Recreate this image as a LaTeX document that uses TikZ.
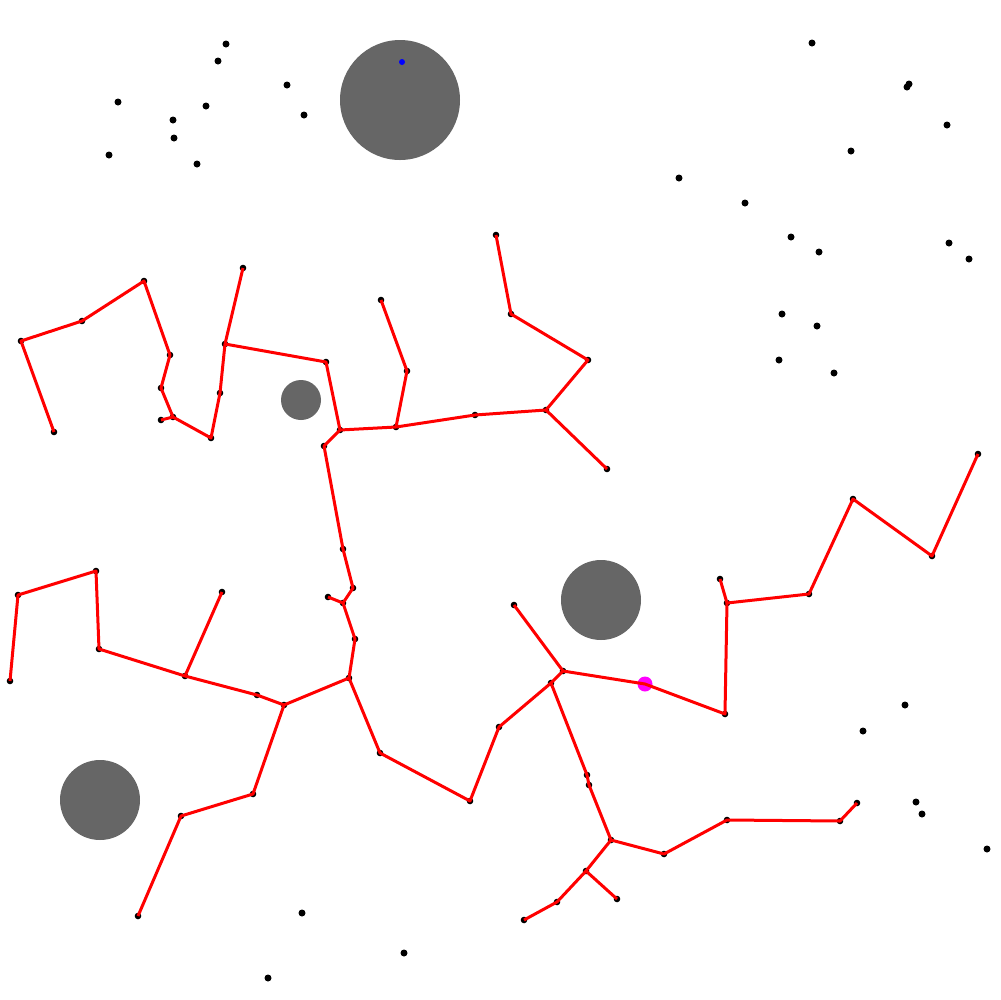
\documentclass[tikz,border=0pt]{standalone}
\usepackage{xcolor}
\usepackage{tikz}
\definecolor{obstgray}{RGB}{102, 102, 102}
\definecolor{treered}{RGB}{255, 0, 0}
\definecolor{goalpink}{RGB}{255, 0, 255}
\definecolor{startblue}{RGB}{0, 0, 255}

\begin{document}
\begin{tikzpicture}[
    x=0.1mm, y=-0.1mm,
    obstacle/.style={fill=obstgray},
    sample/.style={fill=black},
    marker/.style={fill=black},
    edge/.style={draw=treered, line width=0.3mm, line join=round}
]
\fill[white] (0,0) rectangle (1000,1000);
\useasboundingbox (0,0) rectangle (1000,1000);

% obstacles
\fill[obstacle] (400,100) circle (6mm);
\fill[obstacle] (301,400) circle (2mm);
\fill[obstacle] (601,600) circle (4mm);
\fill[obstacle] (100,800) circle (4mm);

% free samples
\foreach \x/\y in {226/44, 218/61, 287/85, 118/102, 206/106, 304/115, 173/120,
    174/138, 109/155, 197/164, 812/43, 909/84, 907/87, 947/125, 851/151,
    679/178, 745/203, 791/237, 819/252, 949/243, 969/259, 782/314, 817/326,
    779/360, 834/373, 905/705, 863/731, 916/802, 922/814, 987/849,
    302/913, 404/953, 268/978}
    \fill[sample] (\x,\y) circle (0.35mm);

% tree vertices
\coordinate (v1) at (54,432);
\coordinate (v2) at (21,341);
\coordinate (v3) at (82,321);
\coordinate (v4) at (144,281);
\coordinate (v5) at (170,355);
\coordinate (v6) at (161,388);
\coordinate (v7) at (173,417);
\coordinate (v8) at (161,420);
\coordinate (v9) at (211,438);
\coordinate (v10) at (220,393);
\coordinate (v11) at (225,344);
\coordinate (v12) at (243,268);
\coordinate (v13) at (326,362);
\coordinate (v14) at (340,430);
\coordinate (v15) at (324,446);
\coordinate (v16) at (396,427);
\coordinate (v17) at (407,371);
\coordinate (v18) at (381,300);
\coordinate (v19) at (475,415);
\coordinate (v20) at (546,410);
\coordinate (v21) at (588,360);
\coordinate (v22) at (511,314);
\coordinate (v23) at (496,235);
\coordinate (v24) at (607,469);
\coordinate (v25) at (343,549);
\coordinate (v26) at (353,588);
\coordinate (v27) at (343,603);
\coordinate (v28) at (328,597);
\coordinate (v29) at (355,639);
\coordinate (v30) at (349,678);
\coordinate (v31) at (284,705);
\coordinate (v32) at (257,695);
\coordinate (v33) at (185,676);
\coordinate (v34) at (222,592);
\coordinate (v35) at (99,649);
\coordinate (v36) at (96,571);
\coordinate (v37) at (18,595);
\coordinate (v38) at (10,681);
\coordinate (v39) at (253,794);
\coordinate (v40) at (181,816);
\coordinate (v41) at (138,916);
\coordinate (v42) at (380,753);
\coordinate (v43) at (470,801);
\coordinate (v44) at (499,727);
\coordinate (v45) at (551,683);
\coordinate (v46) at (563,671);
\coordinate (v47) at (514,605);
\coordinate (v48) at (725,714);
\coordinate (v49) at (727,603);
\coordinate (v50) at (720,579);
\coordinate (v51) at (809,594);
\coordinate (v52) at (853,499);
\coordinate (v53) at (932,556);
\coordinate (v54) at (978,454);
\coordinate (v55) at (587,775);
\coordinate (v56) at (589,785);
\coordinate (v57) at (611,840);
\coordinate (v58) at (664,854);
\coordinate (v59) at (727,820);
\coordinate (v60) at (840,821);
\coordinate (v61) at (857,803);
\coordinate (v62) at (586,871);
\coordinate (v63) at (617,899);
\coordinate (v64) at (557,902);
\coordinate (v65) at (524,920);
\coordinate (goal) at (645,684);
\coordinate (start) at (402,62);

\foreach \v in {1,...,65}
    \fill[marker] (v\v) circle (0.33mm);
\fill[goalpink] (goal) circle (0.75mm);

% tree edges
\draw[edge] (v1) -- (v2) -- (v3) -- (v4) -- (v5) -- (v6) -- (v7) -- (v9) -- (v10) -- (v11) -- (v12);
\draw[edge] (v7) -- (v8);
\draw[edge] (v11) -- (v13) -- (v14) -- (v15) -- (v25) -- (v26) -- (v27) -- (v29) -- (v30)
    -- (v31) -- (v32) -- (v33) -- (v35) -- (v36) -- (v37) -- (v38);
\draw[edge] (v14) -- (v16) -- (v19) -- (v20) -- (v21) -- (v22) -- (v23);
\draw[edge] (v20) -- (v24);
\draw[edge] (v16) -- (v17) -- (v18);
\draw[edge] (v27) -- (v28);
\draw[edge] (v33) -- (v34);
\draw[edge] (v31) -- (v39) -- (v40) -- (v41);
\draw[edge] (v30) -- (v42) -- (v43) -- (v44) -- (v45) -- (v46) -- (v47);
\draw[edge] (v46) -- (goal) -- (v48) -- (v49) -- (v50);
\draw[edge] (v49) -- (v51) -- (v52) -- (v53) -- (v54);
\draw[edge] (v45) -- (v55) -- (v56) -- (v57) -- (v58) -- (v59) -- (v60) -- (v61);
\draw[edge] (v57) -- (v62) -- (v64) -- (v65);
\draw[edge] (v62) -- (v63);

% start
\fill[startblue] (start) circle (0.3mm);
\end{tikzpicture}
\end{document}
